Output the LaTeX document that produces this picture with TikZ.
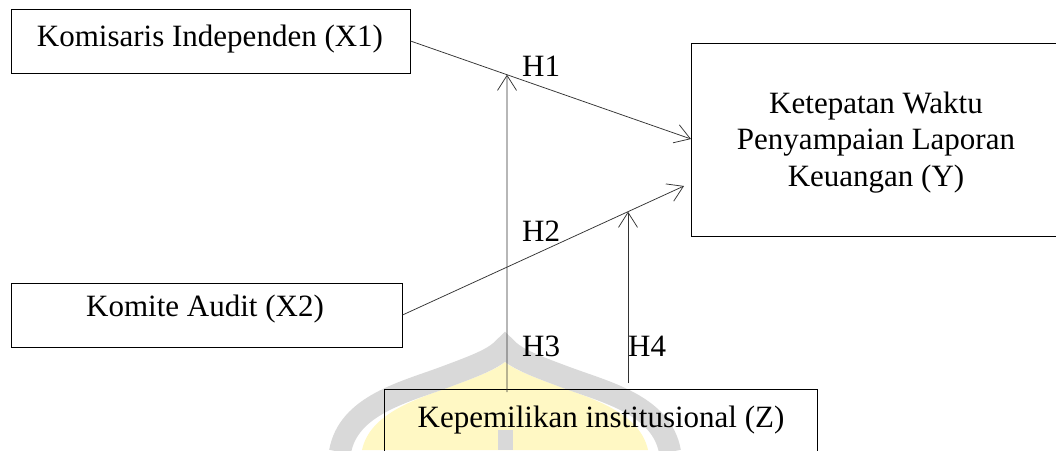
\documentclass[tikz,border=0pt]{standalone}
\usepackage{fontspec}
\setmainfont{Liberation Serif}
\usetikzlibrary{arrows.meta,calc}
\definecolor{wmgrey}{HTML}{D9D9D9}
\definecolor{wmyellow}{HTML}{FFF8C4}
\tikzset{
  box/.style={draw=black, line width=1pt, inner sep=0pt, rectangle},
  txt/.style={inner sep=0pt, font=\fontsize{31}{36.5}\selectfont},
  arr/.style={draw=black!80, line width=0.75pt, -{Straight Barb[length=15pt,width=19pt,line width=0.75pt]}},
}
\begin{document}
\begin{tikzpicture}[x=1pt,y=-1pt]
\useasboundingbox (0,0) rectangle (1056,450);
% watermark
\fill[wmyellow] (362,450) .. controls (370,412) and (420,398) .. (455,385) .. controls (485,374) and (498,368) .. (505,362) .. controls (512,368) and (525,374) .. (555,385) .. controls (590,398) and (640,412) .. (648,450) -- cycle;
\draw[wmgrey, line width=22pt] (340,452) .. controls (348,405) and (405,392) .. (445,377) .. controls (480,364) and (495,358) .. (505,347) .. controls (515,358) and (530,364) .. (565,377) .. controls (605,392) and (662,405) .. (670,452);
\fill[wmgrey] (498,430) rectangle (513,450);
% boxes
\node[box, minimum width=399pt, minimum height=64pt] (x1) at (210.5,41) {};
\node[box, minimum width=391pt, minimum height=64pt] (x2) at (206.5,315) {};
\node[box, minimum width=372pt, minimum height=193pt] (y) at (877,139.5) {};
\node[box, minimum width=433pt, minimum height=64pt] (z) at (600.5,421) {};
% texts
\node[txt, anchor=base] (tx1) at (210,46) {Komisaris Independen (X1)};
\node[txt, anchor=base] (tx2) at (205,316) {Komite Audit (X2)};
\node[txt, anchor=base] (tz) at (601,427) {Kepemilikan institusional (Z)};
\node[txt, align=center] (ty) at (876,142.5) {Ketepatan Waktu\\Penyampaian Laporan\\Keuangan (Y)};
\node[txt, anchor=base west] (h1) at (522,76) {H1};
\node[txt, anchor=base west] (h2) at (522,241) {H2};
\node[txt, anchor=base west] (h3) at (522,356) {H3};
\node[txt, anchor=base west] (h4) at (628,356) {H4};
% connectors
\coordinate (y1) at (691,139);
\coordinate (y2) at (684,186);
\draw[arr] (x1.east) -- (y1);
\draw[arr] (x2.east) -- (y2);
\coordinate (h3b) at (507,392);
\coordinate (h3c) at (507,0);
\coordinate (h3t) at (intersection of x1.east--y1 and h3b--h3c);
\coordinate (h4b) at (628,383);
\coordinate (h4c) at (628,0);
\coordinate (h4t) at (intersection of x2.east--y2 and h4b--h4c);
\draw[arr] (h3b) -- (h3t);
\draw[arr] (h4b) -- (h4t);
\end{tikzpicture}
\end{document}
